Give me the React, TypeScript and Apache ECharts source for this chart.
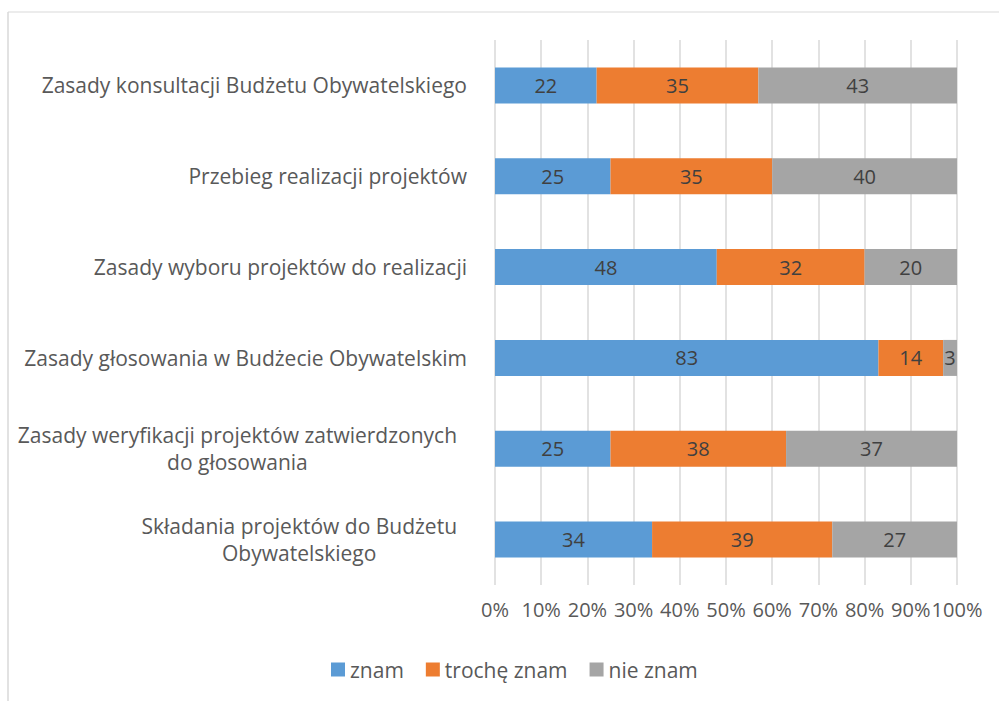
import React, { useEffect, useRef } from "react";
import * as echarts from "echarts";

const categories = [
  "Zasady konsultacji Budżetu Obywatelskiego",
  "Przebieg realizacji projektów",
  "Zasady wyboru projektów do realizacji",
  "Zasady głosowania w Budżecie Obywatelskim",
  "Zasady weryfikacji projektów zatwierdzonych\ndo głosowania",
  "Składania projektów do Budżetu\nObywatelskiego",
];
const seriesNames = ["znam", "trochę znam", "nie znam"];
const znam = [22, 25, 48, 83, 25, 34];
const trocheZnam = [35, 35, 32, 14, 38, 39];
const nieZnam = [43, 40, 20, 3, 37, 27];
const colors = ["#5B9BD5", "#ED7D31", "#A5A5A5"];
const FONT = "'Open Sans', sans-serif";

export default function App() {
  const ref = useRef<HTMLDivElement>(null);
  useEffect(() => {
    if (!ref.current) return;
    const chart = echarts.init(ref.current, null, { renderer: "svg" });
    const values = [znam, trocheZnam, nieZnam];
    chart.setOption({
      animation: false,
      backgroundColor: "#ffffff",
      textStyle: { fontFamily: FONT },
      grid: { left: 495, right: 42, top: 40, bottom: 116, outerBoundsMode: "none" },
      legend: {
        top: 654,
        left: 326,
        itemWidth: 14,
        itemHeight: 14,
        itemGap: 22,
        icon: "rect",
        textStyle: { fontSize: 21, color: "#595959", fontFamily: FONT },
        data: seriesNames,
      },
      xAxis: {
        type: "value",
        min: 0,
        max: 100,
        interval: 10,
        axisLabel: {
          formatter: "{value}%",
          fontSize: 20,
          color: "#595959",
          margin: 14,
          fontFamily: FONT,
        },
        splitLine: { show: true, lineStyle: { color: "#D9D9D9", width: 1.5 } },
        axisLine: { show: false },
        axisTick: { show: false },
      },
      yAxis: {
        type: "category",
        inverse: true,
        data: categories,
        axisLine: { show: false },
        axisTick: { show: false },
        axisLabel: {
          fontSize: 21,
          color: "#595959",
          margin: 28,
          lineHeight: 27,
          fontFamily: FONT,
          formatter: (v: string) => {
            const lines = v.split("\n");
            if (lines.length === 1) return v;
            return lines.map((l) => `{c|${l}}`).join("\n");
          },
          rich: {
            c: {
              align: "center",
              fontSize: 21,
              color: "#595959",
              lineHeight: 27,
              fontFamily: FONT,
              padding: [0, 10, 0, 0],
            },
          },
        },
      },
      series: seriesNames.map((name, i) => ({
        name,
        type: "bar",
        stack: "total",
        barWidth: 36,
        itemStyle: { color: colors[i] },
        label: {
          show: true,
          position: "inside",
          color: "#404040",
          fontSize: 20,
          fontFamily: FONT,
        },
        data: values[i],
      })),
      graphic: [
        { type: "line", shape: { x1: 8, y1: 12, x2: 999, y2: 12 }, style: { stroke: "#D9D9D9", lineWidth: 1 } },
        { type: "line", shape: { x1: 8, y1: 12, x2: 8, y2: 701 }, style: { stroke: "#D9D9D9", lineWidth: 1.5 } },
      ],
    });
    return () => chart.dispose();
  }, []);
  return (
    <div
      ref={ref}
      style={{ position: "absolute", left: 0, top: 0, width: 999, height: 701 }}
    />
  );
}
